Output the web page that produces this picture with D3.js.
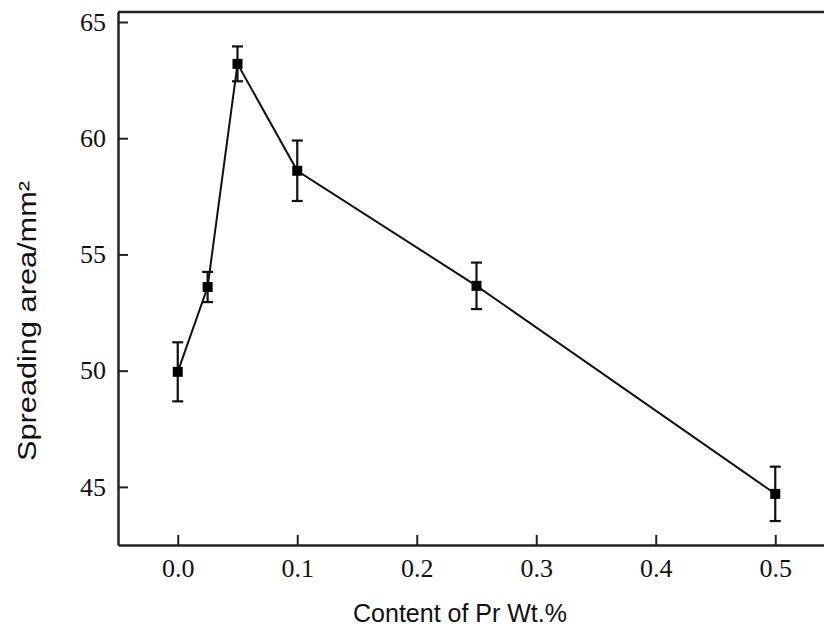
<!DOCTYPE html>
<html>
<head>
<meta charset="utf-8">
<script src="https://cdn.jsdelivr.net/npm/d3@7"></script>
<style>
  body { margin: 0; background: #fff; }
  svg { display: block; }
</style>
</head>
<body>
<svg id="chart" width="824" height="631"></svg>
<script>
// data
var content = [ 0, 0.025, 0.05, 0.1, 0.25, 0.5 ];
var area    = [ 49.95, 53.6, 63.2, 58.6, 53.65, 44.7 ];
var errBar  = [ 1.27, 0.65, 0.75, 1.3, 1.0, 1.17 ];
var xTicks  = [ 0, 0.1, 0.2, 0.3, 0.4, 0.5 ];
var yTicks  = [ 45, 50, 55, 60, 65 ];

var svg = d3.select( "#chart" );

var plotLeft = 118, plotTop = 12, plotBottom = 545;

var x = d3.scaleLinear()
  .domain( [ -0.05, 0.55 ] )
  .range( [ plotLeft, plotLeft + 0.6 * 1195 ] );

var y = d3.scaleLinear()
  .domain( [ 42.5, 65.43 ] )
  .range( [ plotBottom, plotTop ] );

var pts = content.map( ( c, i ) => ( { x: c, y: area[ i ], e: errBar[ i ] } ) );

// top frame line
svg.append( "line" )
  .attr( "x1", plotLeft ).attr( "x2", 824 )
  .attr( "y1", plotTop ).attr( "y2", plotTop )
  .attr( "stroke", "#222" )
  .attr( "stroke-width", 2.5 );

// axes (ticks pointing inward)
var xAxis = svg.append( "g" )
  .attr( "transform", "translate(0," + plotBottom + ")" )
  .call( d3.axisBottom( x )
    .tickValues( xTicks )
    .tickSize( -10 )
    .tickSizeOuter( 0 )
    .tickFormat( d3.format( ".1f" ) ) );

var yAxis = svg.append( "g" )
  .attr( "transform", "translate(" + plotLeft + ",0)" )
  .call( d3.axisLeft( y )
    .tickValues( yTicks )
    .tickSize( -10 )
    .tickSizeOuter( 0 ) );

[ xAxis, yAxis ].forEach( g => {
  g.select( ".domain" )
    .attr( "stroke", "#222" )
    .attr( "stroke-width", 2.5 );
  g.selectAll( ".tick line" )
    .attr( "stroke", "#222" )
    .attr( "stroke-width", 2 );
  g.selectAll( ".tick text" )
    .attr( "fill", "#111" )
    .style( "font-family", "'Liberation Serif', 'Times New Roman', serif" )
    .style( "font-size", "26px" );
} );

xAxis.selectAll( ".tick text" ).attr( "y", 14 ).attr( "dy", "0.71em" );
yAxis.selectAll( ".tick text" ).attr( "x", -12 ).attr( "dy", "0.32em" );

// connecting line
svg.append( "path" )
  .datum( pts )
  .attr( "fill", "none" )
  .attr( "stroke", "#111" )
  .attr( "stroke-width", 2 )
  .attr( "d", d3.line().x( d => x( d.x ) ).y( d => y( d.y ) ) );

// error bars
var eb = svg.selectAll( "g.err" )
  .data( pts )
  .enter().append( "g" )
    .attr( "class", "err" )
    .attr( "stroke", "#111" )
    .attr( "stroke-width", 2.2 );

eb.append( "line" )
  .attr( "x1", d => x( d.x ) ).attr( "x2", d => x( d.x ) )
  .attr( "y1", d => y( d.y + d.e ) ).attr( "y2", d => y( d.y - d.e ) );

eb.append( "line" )
  .attr( "x1", d => x( d.x ) - 5.5 ).attr( "x2", d => x( d.x ) + 5.5 )
  .attr( "y1", d => y( d.y + d.e ) ).attr( "y2", d => y( d.y + d.e ) );

eb.append( "line" )
  .attr( "x1", d => x( d.x ) - 5.5 ).attr( "x2", d => x( d.x ) + 5.5 )
  .attr( "y1", d => y( d.y - d.e ) ).attr( "y2", d => y( d.y - d.e ) );

// square markers
svg.selectAll( "rect.pt" )
  .data( pts )
  .enter().append( "rect" )
    .attr( "class", "pt" )
    .attr( "x", d => x( d.x ) - 5 )
    .attr( "y", d => y( d.y ) - 5 )
    .attr( "width", 10 )
    .attr( "height", 10 )
    .attr( "fill", "#000" );

// axis titles
svg.append( "text" )
  .attr( "x", 460 )
  .attr( "y", 622 )
  .attr( "text-anchor", "middle" )
  .style( "font-family", "'Liberation Sans', Arial, sans-serif" )
  .style( "font-size", "25px" )
  .attr( "fill", "#111" )
  .text( "Content of Pr Wt.%" );

svg.append( "text" )
  .attr( "transform", "translate(36,321) rotate(-90)" )
  .attr( "text-anchor", "middle" )
  .attr( "textLength", 280 )
  .attr( "lengthAdjust", "spacingAndGlyphs" )
  .style( "font-family", "'Liberation Sans', Arial, sans-serif" )
  .style( "font-size", "25px" )
  .attr( "fill", "#111" )
  .text( "Spreading area/mm²" );
</script>
</body>
</html>
